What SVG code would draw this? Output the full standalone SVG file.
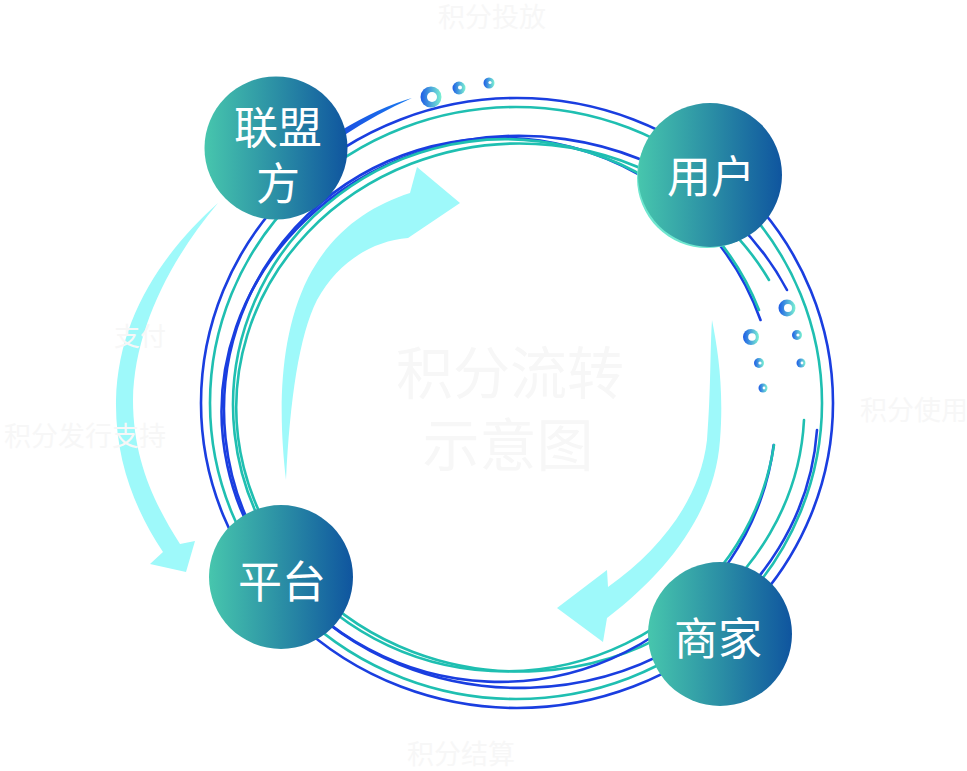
<svg xmlns="http://www.w3.org/2000/svg" width="967" height="771" viewBox="0 0 967 771">
<defs>
<linearGradient id="nodeGrad" x1="0" y1="0" x2="1" y2="0">
<stop offset="0" stop-color="#47c6ad"/>
<stop offset="0.5" stop-color="#2b8fa5"/>
<stop offset="1" stop-color="#0f559f"/>
</linearGradient>
<linearGradient id="bub" x1="0" y1="0" x2="1" y2="0">
<stop offset="0" stop-color="#1c5ae6"/>
<stop offset="1" stop-color="#7cf3d2"/>
</linearGradient>
<linearGradient id="taper" x1="0" y1="0" x2="1" y2="0">
<stop offset="0" stop-color="#1a4fe2"/>
<stop offset="1" stop-color="#1a7cf0"/>
</linearGradient>
<style>
.blue{fill:none;stroke:#1a3ee0;stroke-width:2.6;stroke-linecap:round}
.teal{fill:none;stroke:#1fbfb1;stroke-width:2.6;stroke-linecap:round}
.arrow{fill:#9ef9fa}
.node{fill:url(#nodeGrad)}
.nlabel{font-family:"Noto Sans CJK SC","Noto Sans",sans-serif;font-size:44px;font-weight:400;fill:#ffffff;text-anchor:middle}
.faint{font-family:"Noto Sans CJK SC","Noto Sans",sans-serif;fill:#f7f7f7}
.bub{fill:url(#bub)}
.hole{fill:#ffffff}
</style>
</defs>
<rect width="967" height="771" fill="#ffffff"/>

<g id="rings">
<ellipse class="blue" cx="517" cy="403" rx="316" ry="305"/>
<ellipse class="teal" cx="516" cy="403" rx="306" ry="296"/>
<path class="blue" d="M787,290 A298,276 0 1 0 817,430"/>
<path class="teal" d="M769,280 A284,264 0 1 0 804,420"/>
<path class="blue" d="M760.5,320 A276,272 0 1 0 773.7,445"/>
<path class="teal" d="M759,310 A272,266 0 1 0 774,445"/>
<path fill="url(#taper)" d="M412,98 Q380,107 340,131 L343,136 Q378,113 412,98 Z"/>
</g>

<g id="connectors">
<path class="arrow" d="M218,203 C160,255 118,320 116,400 C115,460 135,510 163,552 L150,564 L186,572 L195,541 L180,544 C155,505 133,460 133,400 C134,330 170,260 218,203 Z"/>
<path class="arrow" d="M286,480 C279,420 277,340 308,278 C333,230 370,206 410,193 L417,167 L460,203 L408,238 C372,241 338,262 317,300 C299,336 290,400 286,480 Z"/>
<path class="arrow" d="M712,320 C718,350 724,390 720,440 C715,510 670,570 607,618 L603,642 L557,608 L607,570 L608,587 C660,550 700,500 707,440 C711,390 710,350 712,320 Z"/>
</g>

<g id="bubbles">
<circle class="bub" cx="431" cy="97" r="10.5"/><circle class="hole" cx="432" cy="97" r="5"/>
<circle class="bub" cx="459" cy="88" r="6.5"/><circle class="hole" cx="460" cy="87.5" r="2"/>
<circle class="bub" cx="489" cy="83" r="5.5"/><circle class="hole" cx="490" cy="82.5" r="1.6"/>
<circle class="bub" cx="787" cy="308" r="8.5"/><circle class="hole" cx="788" cy="308" r="4"/>
<circle class="bub" cx="751" cy="337" r="8"/><circle class="hole" cx="752" cy="337" r="3.8"/>
<circle class="bub" cx="797" cy="335" r="5"/><circle class="hole" cx="798" cy="335" r="1.6"/>
<circle class="bub" cx="759" cy="363" r="5"/><circle class="hole" cx="760" cy="363" r="1.6"/>
<circle class="bub" cx="801" cy="363" r="4.5"/><circle class="hole" cx="802" cy="363" r="1.4"/>
<circle class="bub" cx="763" cy="388" r="4.5"/><circle class="hole" cx="764" cy="388" r="1.4"/>
</g>

<g id="node-lianmengfang">
<circle class="node" cx="276" cy="148" r="71.5"/>
<text class="nlabel" x="278" y="144">联盟</text>
<text class="nlabel" x="278" y="200">方</text>
</g>
<g id="node-yonghu">
<circle cx="707" cy="178" r="70" fill="#6fe6cf"/>
<circle class="node" cx="710" cy="175" r="72"/>
<text class="nlabel" x="711" y="193">用户</text>
</g>
<g id="node-shangjia">
<circle class="node" cx="720" cy="634" r="72"/>
<text class="nlabel" x="718" y="655">商家</text>
</g>
<g id="node-pingtai">
<circle class="node" cx="281" cy="577" r="72"/>
<text class="nlabel" x="282" y="598">平台</text>
</g>

<g id="labels">
<text class="faint" x="492" y="27" font-size="27" text-anchor="middle">积分投放</text>
<text class="faint" x="166" y="346" font-size="26" text-anchor="end">支付</text>
<text class="faint" x="166" y="446" font-size="27" text-anchor="end">积分发行支持</text>
<text class="faint" x="860" y="420" font-size="27">积分使用</text>
<text class="faint" x="461" y="764" font-size="27" text-anchor="middle">积分结算</text>
<text class="faint" x="510" y="394" font-size="57" text-anchor="middle">积分流转</text>
<text class="faint" x="508" y="466" font-size="57" text-anchor="middle">示意图</text>
</g>
</svg>
